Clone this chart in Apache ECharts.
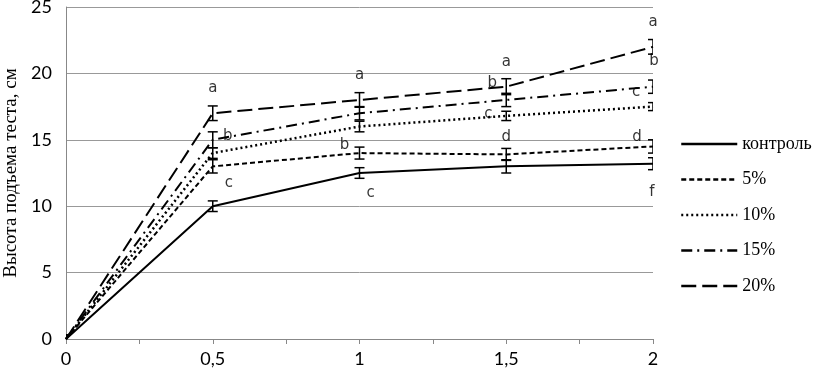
<!DOCTYPE html>
<html>
<head>
<meta charset="utf-8">
<script src="https://cdn.jsdelivr.net/npm/echarts@6/dist/echarts.min.js"></script>
<style>
  html, body { margin: 0; padding: 0; background: #fff; }
  #chart { width: 817px; height: 376px; }
</style>
</head>
<body>
<div id="chart"></div>
<script>
// время, ч
var xVals = [0, 0.5, 1, 1.5, 2];
// высота подъема теста, см
var kontrol = [0, 10, 12.5, 13, 13.2];
var p5 = [0, 13, 14, 13.9, 14.5];
var p10 = [0, 14, 16, 16.8, 17.5];
var p15 = [0, 15, 17, 18, 19];
var p20 = [0, 17, 18, 19, 22];
// погрешность
var errKontrol = [0.3, 0.4, 0.4, 0.5, 0.45];
var errP5 = [0.3, 0.5, 0.45, 0.45, 0.5];
var errP10 = [0.3, 0.4, 0.4, 0.35, 0.3];
var errP15 = [0.3, 0.6, 0.5, 0.5, 0.5];
var errP20 = [0.3, 0.55, 0.55, 0.6, 0.55];
// буквы достоверности
var letKontrol = ['', 'c', 'c', '', 'f'];
var letP5 = ['', '', 'b', 'd', 'd'];
var letP10 = ['', '', '', 'c', 'c'];
var letP15 = ['', 'b', '', 'b', 'b'];
var letP20 = ['', 'a', 'a', 'a', 'a'];

var names = ['контроль', '5%', '10%', '15%', '20%'];
var values = [kontrol, p5, p10, p15, p20];
var errs = [errKontrol, errP5, errP10, errP15, errP20];
var lets = [letKontrol, letP5, letP10, letP15, letP20];

// стиль линий
var dashes = ['solid', [5, 3], [2, 3], [11, 5, 2, 5], [15, 6]];
var widths = [2, 2, 2.5, 2, 2];
// смещение букв, px
var letOffsets = [
  [null, [16, -23], [11, 20], null, [-1, 28]],
  [null, null, [-15, -8], [0, -17], [-16, -9]],
  [null, null, null, [-18, -2], [-17, -14]],
  [null, [15, -4], null, [-14, -17], [1, -26]],
  [null, [0, -25], [0, -25], [0, -25], [0, -25]]
];

var series = [];
names.forEach(function (name, i) {
  series.push({
    name: name,
    type: 'line',
    data: xVals.map(function (x, j) { return [x, values[i][j]]; }),
    symbol: 'none',
    lineStyle: { color: '#000', width: widths[i], type: dashes[i], cap: 'butt' },
    itemStyle: { color: '#000' },
    z: 3
  });
  series.push({
    type: 'custom',
    data: xVals.map(function (x, j) { return [x, values[i][j], errs[i][j]]; }),
    clip: true,
    z: 4,
    renderItem: function (params, api) {
      var x = api.value(0), y = api.value(1), e = api.value(2);
      var top = api.coord([x, y + e]);
      var bot = api.coord([x, y - e]);
      var w = 5;
      var st = { stroke: '#000', lineWidth: 1.5 };
      return {
        type: 'group',
        children: [
          { type: 'line', shape: { x1: top[0], y1: top[1], x2: bot[0], y2: bot[1] }, style: st },
          { type: 'line', shape: { x1: top[0] - w, y1: top[1], x2: top[0] + w, y2: top[1] }, style: st },
          { type: 'line', shape: { x1: bot[0] - w, y1: bot[1], x2: bot[0] + w, y2: bot[1] }, style: st }
        ]
      };
    }
  });
  series.push({
    type: 'scatter',
    symbolSize: 0,
    silent: true,
    z: 5,
    data: xVals.map(function (x, j) {
      return {
        value: [x, values[i][j]],
        label: {
          show: lets[i][j] !== '',
          formatter: lets[i][j],
          position: 'inside',
          offset: letOffsets[i][j] || [0, 0],
          color: '#000',
          fontFamily: 'DejaVu Sans',
          fontSize: 15
        }
      };
    })
  });
});

var option = {
  animation: false,
  backgroundColor: '#fff',
  grid: { left: 66, right: 164, top: 7, bottom: 37, outerBoundsMode: 'none', containLabel: false },
  legend: {
    data: names,
    orient: 'vertical',
    left: 675,
    top: 130,
    itemWidth: 56,
    itemHeight: 16,
    itemGap: 17.5,
    itemStyle: { opacity: 0 },
    lineStyle: { width: 2.5 },
    textStyle: { color: '#000', fontFamily: 'Liberation Serif', fontSize: 18 }
  },
  xAxis: {
    type: 'value',
    min: 0,
    max: 2,
    interval: 0.25,
    axisLine: { lineStyle: { color: '#888', width: 1 } },
    axisTick: { show: true, inside: false, length: 5, lineStyle: { color: '#888' } },
    splitLine: { show: false },
    axisLabel: {
      color: '#000',
      fontFamily: 'Lato',
      fontSize: 18,
      margin: 11,
      formatter: function (v) {
        if (Math.abs(v * 2 - Math.round(v * 2)) > 1e-6) return '';
        return String(v).replace('.', ',');
      }
    }
  },
  yAxis: {
    type: 'value',
    min: 0,
    max: 25,
    interval: 5,
    name: 'Высота подъема теста, см',
    nameLocation: 'middle',
    nameGap: 45,
    nameTextStyle: { color: '#000', fontFamily: 'Liberation Serif', fontSize: 19 },
    axisLine: { show: true, lineStyle: { color: '#888', width: 1 } },
    axisTick: { show: false },
    splitLine: { lineStyle: { color: '#999', width: 1 } },
    axisLabel: { color: '#000', fontFamily: 'Lato', fontSize: 18, margin: 14 }
  },
  series: series
};

var chart = echarts.init(document.getElementById('chart'));
chart.setOption(option);
</script>
</body>
</html>
